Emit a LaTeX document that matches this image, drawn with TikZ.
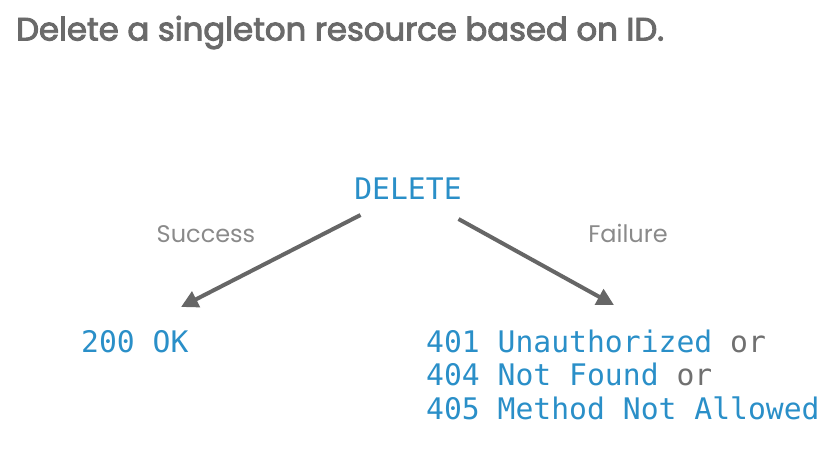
\documentclass[tikz,border=0pt]{standalone}
\usepackage{fontspec}
\setmainfont{Poppins}
\setmonofont{DejaVu Sans Mono}
\newfontfamily\titlefont[FakeBold=3]{Poppins}
\usetikzlibrary{arrows.meta}
\definecolor{codeblue}{HTML}{2A8FC8}
\definecolor{titlegray}{HTML}{6A6A6A}
\definecolor{labelgray}{HTML}{8A8A8A}
\definecolor{orgray}{HTML}{707070}
\definecolor{arrowgray}{HTML}{666666}
\tikzset{
  code/.style={inner sep=0pt, text=codeblue, font=\ttfamily\fontsize{29.7}{33.5}\selectfont},
  lbl/.style={inner sep=0pt, text=labelgray, font=\fontsize{24}{28}\selectfont},
  flow/.style={draw=arrowgray, line width=4pt, -{Triangle[length=17pt,width=17pt]}},
}
\begin{document}
\begin{tikzpicture}[x=1pt,y=-1pt]
\useasboundingbox (0,0) rectangle (833,450);
\node[inner sep=0pt, anchor=base west, text=titlegray, font=\titlefont\fontsize{32.3}{36}\selectfont] (title) at (16,40.5) {Delete a singleton resource based on ID.};
\node[code, anchor=base] (del) at (408,199.5) {DELETE};
\node[lbl, anchor=base] (succ) at (206,242) {Success};
\node[lbl, anchor=base] (fail) at (628,242) {Failure};
\node[code, anchor=base west] (ok) at (81,352) {200 OK};
\node[code, anchor=base west] (err1) at (426,352) {401 Unauthorized \textcolor{orgray}{or}};
\node[code, anchor=base west] (err2) at (426,385.5) {404 Not Found \textcolor{orgray}{or}};
\node[code, anchor=base west] (err3) at (426,419) {405 Method Not Allowed};
\coordinate (s1) at (360.5,215);
\coordinate (e1) at (181,307);
\coordinate (s2) at (458.5,219);
\coordinate (e2) at (614,305);
\draw[flow] (s1) -- (e1);
\draw[flow] (s2) -- (e2);
\end{tikzpicture}
\end{document}
